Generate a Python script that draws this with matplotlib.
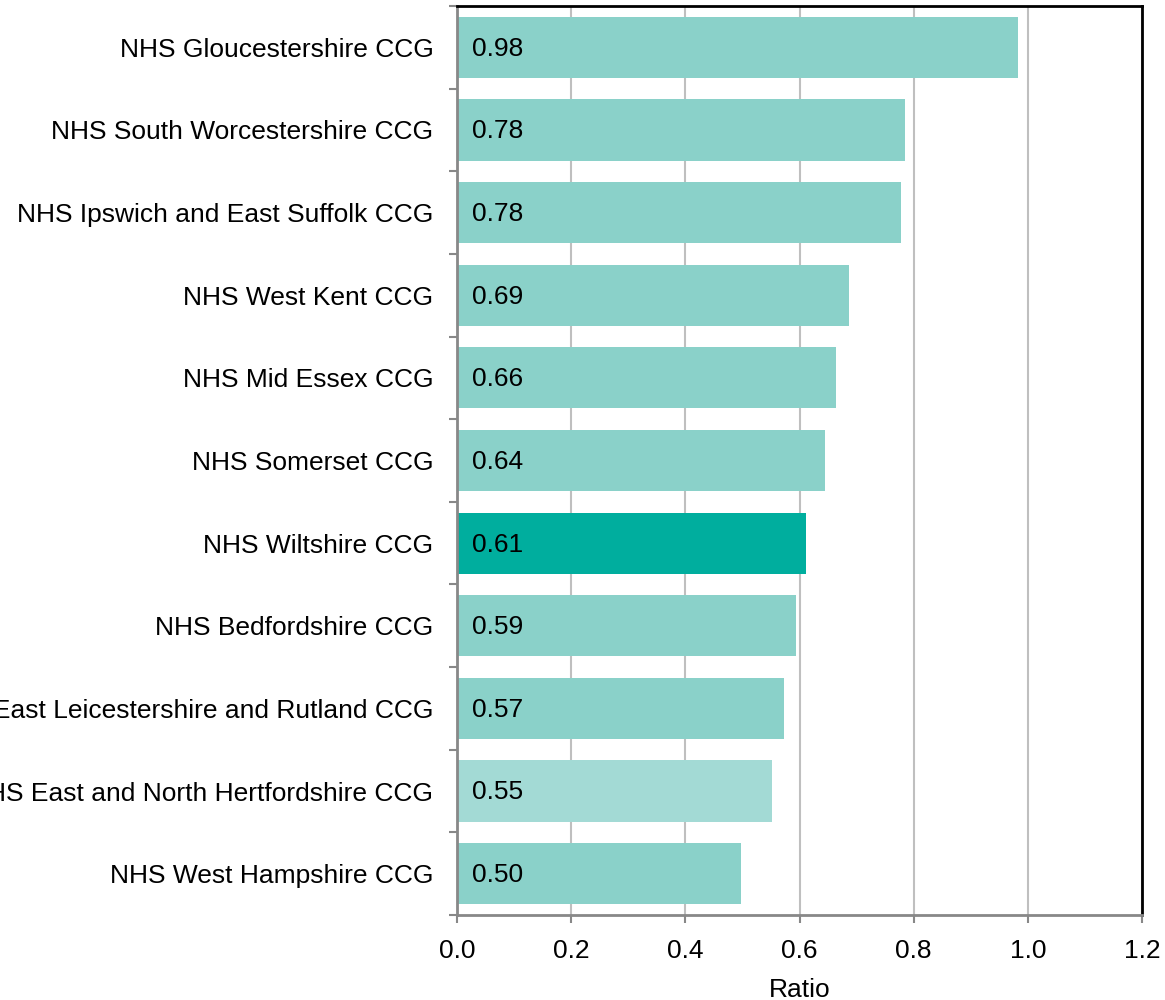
import numpy as np
import matplotlib
matplotlib.use("Agg")
import matplotlib.pyplot as plt

plt.rcParams['font.family'] = ['Liberation Sans', 'DejaVu Sans']

# data, top to bottom
names = ["NHS Gloucestershire CCG", "NHS South Worcestershire CCG",
         "NHS Ipswich and East Suffolk CCG", "NHS West Kent CCG",
         "NHS Mid Essex CCG", "NHS Somerset CCG", "NHS Wiltshire CCG",
         "NHS Bedfordshire CCG", "NHS East Leicestershire and Rutland CCG",
         "NHS East and North Hertfordshire CCG", "NHS West Hampshire CCG"]
ratios = [0.983, 0.784, 0.778, 0.686, 0.664, 0.644, 0.611, 0.593, 0.573, 0.552, 0.498]
highlight = "NHS Wiltshire CCG"
lighter = "NHS East and North Hertfordshire CCG"

cols = []
for n in names:
	if n == highlight:
		cols.append("#00AE9E")
	elif n == lighter:
		cols.append("#A3DAD5")
	else:
		cols.append("#8AD1C9")

fs = 19
fig = plt.figure(figsize=(11.65, 10), dpi=100)
ax = fig.add_axes([457/1165, 1-915/1000, (1142-457)/1165, (915-6)/1000])

y = np.arange(len(names))
ax.barh(y, ratios, height=0.74, color=cols, zorder=2)
ax.set_ylim(len(names)-0.5, -0.5)
ax.set_xlim(0, 1.2)

for yi, v in zip(y, ratios):
	ax.annotate("%.2f" % v, (0, yi), xytext=(11, -1), textcoords="offset points",
				va="center", ha="left", fontsize=fs, color="black", zorder=3)

ax.set_yticks(y)
ax.set_yticklabels(names, fontsize=fs)
ax.set_yticks(np.arange(len(names)+1)-0.5, minor=True)
ax.tick_params(axis='y', which='major', length=0, pad=17)
ax.tick_params(axis='y', which='minor', length=6, width=1.5, color="#888888", direction='out')

ax.set_xticks(np.arange(0, 1.21, 0.2))
ax.set_xticklabels(["%.1f" % t for t in np.arange(0, 1.21, 0.2)], fontsize=fs)
ax.tick_params(axis='x', length=6, width=1.5, color="#888888", pad=11)
ax.set_xlabel("Ratio", fontsize=fs, labelpad=11)

ax.grid(axis='x', color="#BFBFBF", linewidth=1.5, zorder=0)
ax.set_axisbelow(True)

for s in ["left", "bottom"]:
	ax.spines[s].set_color("#888888")
	ax.spines[s].set_linewidth(2)
for s in ["top", "right"]:
	ax.spines[s].set_color("black")
	ax.spines[s].set_linewidth(2)

fig.savefig("out.png", dpi=100)
